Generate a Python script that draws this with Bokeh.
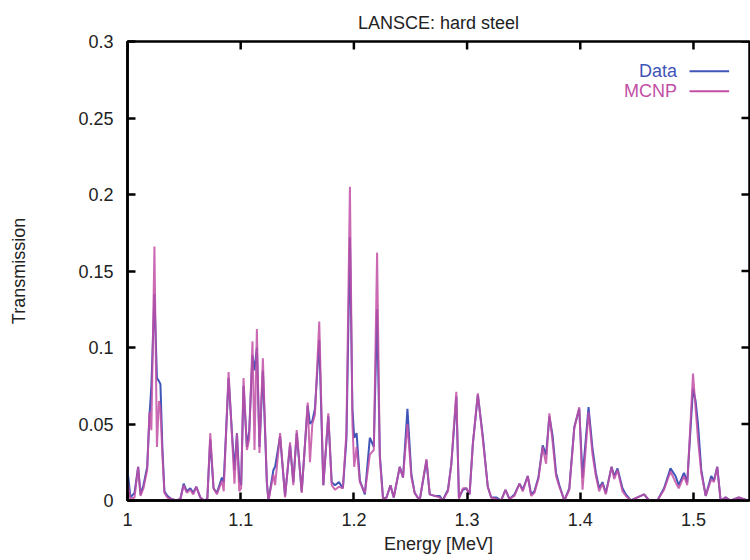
import math
from bokeh.plotting import figure
from bokeh.models import LinearAxis, FixedTicker, Range1d, Label
from bokeh.embed import file_html
from bokeh.resources import INLINE

# ---- data ----
energy = [1.0000, 1.0026, 1.0062, 1.0094, 1.0115, 1.0141, 1.0174, 1.0194, 1.0211, 1.0238,
          1.0260, 1.0278, 1.0291, 1.0308, 1.0326, 1.0352, 1.0388, 1.0432, 1.0467, 1.0496,
          1.0524, 1.0555, 1.0581, 1.0608, 1.0643, 1.0678, 1.0705, 1.0731, 1.0760, 1.0790,
          1.0834, 1.0850, 1.0893, 1.0922, 1.0945, 1.0967, 1.0987, 1.1004, 1.1025, 1.1055,
          1.1075, 1.1104, 1.1122, 1.1143, 1.1166, 1.1196, 1.1231, 1.1245, 1.1289, 1.1304,
          1.1348, 1.1392, 1.1436, 1.1465, 1.1495, 1.1539, 1.1592, 1.1612, 1.1633, 1.1656,
          1.1694, 1.1730, 1.1774, 1.1804, 1.1833, 1.1868, 1.1903, 1.1934, 1.1965, 1.1987,
          1.2003, 1.2024, 1.2053, 1.2097, 1.2141, 1.2176, 1.2205, 1.2229, 1.2258, 1.2288,
          1.2323, 1.2352, 1.2405, 1.2434, 1.2473, 1.2508, 1.2537, 1.2581, 1.2641, 1.2670,
          1.2714, 1.2758, 1.2784, 1.2831, 1.2861, 1.2905, 1.2928, 1.2963, 1.2993, 1.3022,
          1.3051, 1.3095, 1.3139, 1.3183, 1.3213, 1.3257, 1.3301, 1.3339, 1.3374, 1.3419,
          1.3463, 1.3492, 1.3536, 1.3566, 1.3595, 1.3630, 1.3668, 1.3698, 1.3727, 1.3756,
          1.3786, 1.3815, 1.3859, 1.3903, 1.3947, 1.3991, 1.4020, 1.4073, 1.4108, 1.4138,
          1.4167, 1.4196, 1.4226, 1.4276, 1.4300, 1.4329, 1.4373, 1.4403, 1.4447, 1.4505,
          1.4564, 1.4608, 1.4681, 1.4740, 1.4797, 1.4841, 1.4870, 1.4916, 1.4945, 1.4996,
          1.5019, 1.5040, 1.5069, 1.5108, 1.5157, 1.5181, 1.5210, 1.5240, 1.5284, 1.5328,
          1.5401, 1.5480]

data_T = [0.020, 0.002, 0.005, 0.022, 0.004, 0.010, 0.022, 0.055, 0.075, 0.135,
          0.080, 0.078, 0.076, 0.035, 0.006, 0.003, 0.001, 0.000, 0.001, 0.011,
          0.006, 0.008, 0.005, 0.009, 0.002, 0.000, 0.001, 0.040, 0.008, 0.005,
          0.015, 0.012, 0.080, 0.045, 0.020, 0.044, 0.014, 0.010, 0.075, 0.035,
          0.045, 0.095, 0.085, 0.100, 0.035, 0.085, 0.012, 0.000, 0.020, 0.022,
          0.042, 0.003, 0.036, 0.012, 0.044, 0.006, 0.062, 0.050, 0.052, 0.060,
          0.105, 0.010, 0.055, 0.012, 0.010, 0.012, 0.008, 0.040, 0.172, 0.060,
          0.041, 0.044, 0.013, 0.004, 0.041, 0.035, 0.125, 0.030, 0.001, 0.002,
          0.010, 0.002, 0.022, 0.015, 0.060, 0.017, 0.005, 0.000, 0.026, 0.004,
          0.003, 0.003, 0.000, 0.007, 0.024, 0.068, 0.002, 0.007, 0.008, 0.004,
          0.037, 0.069, 0.042, 0.009, 0.002, 0.002, 0.000, 0.007, 0.001, 0.004,
          0.011, 0.007, 0.016, 0.004, 0.006, 0.015, 0.036, 0.030, 0.055, 0.042,
          0.018, 0.010, 0.000, 0.008, 0.048, 0.060, 0.015, 0.061, 0.034, 0.018,
          0.008, 0.012, 0.005, 0.022, 0.016, 0.021, 0.008, 0.004, 0.000, 0.002,
          0.004, 0.000, 0.000, 0.008, 0.021, 0.016, 0.010, 0.018, 0.012, 0.073,
          0.065, 0.050, 0.020, 0.003, 0.016, 0.013, 0.022, 0.000, 0.002, 0.000,
          0.002, 0.000]

mcnp_T = [0.012, 0.001, 0.002, 0.022, 0.003, 0.008, 0.020, 0.058, 0.046, 0.166,
          0.035, 0.065, 0.060, 0.030, 0.005, 0.002, 0.001, 0.000, 0.001, 0.010,
          0.005, 0.007, 0.004, 0.009, 0.002, 0.000, 0.000, 0.044, 0.008, 0.004,
          0.013, 0.006, 0.084, 0.044, 0.011, 0.044, 0.006, 0.008, 0.080, 0.033,
          0.040, 0.104, 0.033, 0.112, 0.031, 0.093, 0.012, 0.000, 0.017, 0.010,
          0.044, 0.002, 0.038, 0.010, 0.046, 0.005, 0.064, 0.025, 0.050, 0.056,
          0.117, 0.010, 0.057, 0.010, 0.007, 0.009, 0.008, 0.045, 0.205, 0.050,
          0.022, 0.035, 0.012, 0.005, 0.030, 0.033, 0.162, 0.028, 0.000, 0.002,
          0.010, 0.002, 0.022, 0.015, 0.050, 0.015, 0.005, 0.000, 0.027, 0.004,
          0.003, 0.002, 0.000, 0.006, 0.024, 0.071, 0.001, 0.008, 0.008, 0.004,
          0.037, 0.070, 0.040, 0.009, 0.002, 0.001, 0.000, 0.007, 0.001, 0.003,
          0.011, 0.006, 0.016, 0.003, 0.005, 0.014, 0.035, 0.024, 0.057, 0.038,
          0.016, 0.009, 0.000, 0.007, 0.047, 0.061, 0.007, 0.058, 0.030, 0.016,
          0.006, 0.011, 0.004, 0.022, 0.014, 0.020, 0.006, 0.003, 0.000, 0.002,
          0.004, 0.000, 0.000, 0.007, 0.019, 0.012, 0.008, 0.016, 0.010, 0.083,
          0.060, 0.040, 0.018, 0.003, 0.014, 0.012, 0.022, 0.000, 0.002, 0.000,
          0.002, 0.000]

x_ticks = [1.0, 1.1, 1.2, 1.3, 1.4, 1.5]
x_tick_labels = ["1", "1.1", "1.2", "1.3", "1.4", "1.5"]
y_ticks = [0.0, 0.05, 0.1, 0.15, 0.2, 0.25, 0.3]
y_tick_labels = ["0", "0.05", "0.1", "0.15", "0.2", "0.25", "0.3"]
series_names = ["Data", "MCNP"]

# ---- styling ----
FONT = "Liberation Sans"
DATA_COLOR = "#3f55b8"
MCNP_COLOR = "#c24fa6"
TEXT_COLOR = "#222222"
X_START, X_END = 1.0, 1.5495
Y_START, Y_END = 0.0, 0.3

p = figure(width=750, height=560, output_backend="svg", toolbar_location=None,
           x_range=Range1d(X_START, X_END), y_range=Range1d(Y_START, Y_END),
           x_axis_type=None, y_axis_type=None,
           min_border_left=127, min_border_right=1, min_border_top=41, min_border_bottom=60)

p.title.text = "LANSCE: hard steel"
p.title.align = "center"
p.title.text_font = FONT
p.title.text_font_size = "18px"
p.title.text_font_style = "normal"
p.title.text_color = TEXT_COLOR
p.title.standoff = 18

p.grid.visible = False
p.outline_line_color = "black"
p.outline_line_width = 2.5
p.background_fill_color = "white"
p.border_fill_color = "white"

x_overrides = {t: l for t, l in zip(x_ticks, x_tick_labels)}
y_overrides = {t: l for t, l in zip(y_ticks, y_tick_labels)}


def style_axis(ax, ticks, overrides):
    ax.ticker = FixedTicker(ticks=ticks)
    ax.major_tick_in = 8
    ax.major_tick_out = 0
    ax.minor_tick_line_color = None
    ax.major_tick_line_width = 2.5
    ax.major_tick_line_color = "black"
    ax.axis_line_color = "black"
    ax.axis_line_width = 2.5
    ax.major_label_overrides = overrides
    ax.major_label_text_font = FONT
    ax.major_label_text_font_size = "18px"
    ax.major_label_text_color = TEXT_COLOR
    ax.axis_label_text_font = FONT
    ax.axis_label_text_font_size = "18px"
    ax.axis_label_text_font_style = "normal"
    ax.axis_label_text_color = TEXT_COLOR


xb = LinearAxis(axis_label="Energy [MeV]")
style_axis(xb, x_ticks, x_overrides)
xb.major_label_standoff = 12
xb.axis_label_standoff = 5
p.add_layout(xb, "below")

yl = LinearAxis(axis_label="Transmission")
style_axis(yl, y_ticks, y_overrides)
yl.major_label_standoff = 14
yl.axis_label_standoff = 46
p.add_layout(yl, "left")

# mirrored inward tick marks on the top and right frame edges
p.ray(x=x_ticks, y=[Y_END] * len(x_ticks), length=8, length_units="screen",
      angle=-math.pi / 2, line_color="black", line_width=2.5)
p.ray(x=[X_END] * len(y_ticks), y=y_ticks, length=8, length_units="screen",
      angle=math.pi, line_color="black", line_width=2.5)

# ---- curves ----
p.line(energy, data_T, line_color=DATA_COLOR, line_width=2)
p.line(energy, mcnp_T, line_color=MCNP_COLOR, line_width=2, line_alpha=0.85)

# ---- legend (gnuplot style: text then line sample) ----
legend_rows = [(series_names[0], DATA_COLOR, 0.2805), (series_names[1], MCNP_COLOR, 0.2675)]
for name, col, yy in legend_rows:
    p.add_layout(Label(x=1.4855, y=yy, text=name, text_align="right", text_baseline="middle",
                       text_font=FONT, text_font_size="18px", text_color=col))
    p.segment(x0=[1.4965], x1=[1.5315], y0=[yy], y1=[yy], line_color=col, line_width=2)

open("out.html", "w").write(file_html(p, INLINE))
